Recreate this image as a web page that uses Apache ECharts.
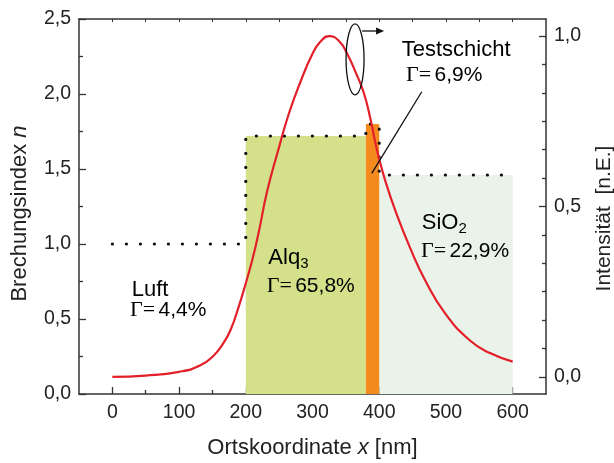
<!DOCTYPE html>
<html>
<head>
<meta charset="utf-8">
<script src="https://cdn.jsdelivr.net/npm/echarts@6/dist/echarts.min.js"></script>
<style>
  html, body { margin: 0; padding: 0; background: #ffffff; }
  #chart { width: 614px; height: 463px; }
</style>
</head>
<body>
<div id="chart"></div>
<script>
// Layer stack: edges in nm and refractive index per layer
const layerEdges = [0, 200, 380, 400, 600];
const layerIndex = [1.0, 1.72, 1.8, 1.46];
const layerNames = ['Luft', 'Alq3', 'Testschicht', 'SiO2'];
const layerGamma = ['4,4', '65,8', '6,9', '22,9'];

// Normalised intensity of the optical mode across the stack
const intensityNm = [0, 50, 100, 132, 152, 165, 177, 190, 200, 210, 220, 232, 250, 265, 282, 300, 312, 325, 340, 352, 365, 377, 387, 397, 409, 426, 446, 469, 499, 536, 566, 600];
const intensityVal = [0.000, 0.004, 0.015, 0.034, 0.063, 0.095, 0.137, 0.21, 0.275, 0.345, 0.43, 0.545, 0.675, 0.775, 0.866, 0.948, 0.984, 1.0, 0.985, 0.948, 0.892, 0.833, 0.755, 0.663, 0.576, 0.478, 0.38, 0.283, 0.186, 0.107, 0.07, 0.045];

// Tick positions
const xMajorTicks = [0, 100, 200, 300, 400, 500, 600];
const xMinorTicks = [50, 150, 250, 350, 450, 550];
const xTopTicks = [0, 50, 100, 150, 200, 250, 300, 350, 400, 450, 500, 550, 600];
const intensityMajorTicks = [0, 0.5, 1.0];
const intensityMinorTicks = [1/12, 2/12, 3/12, 4/12, 5/12, 7/12, 8/12, 9/12, 10/12, 11/12];

const layerFill = [null, '#d4e08a', '#f58a1f', '#e9f3ea'];

const SANS = '"Liberation Sans", Arial, Helvetica, sans-serif';
const SERIF = '"Liberation Serif", "Times New Roman", serif';
const INK = '#222222';
const AXIS = '#333333';

const chart = echarts.init(document.getElementById('chart'), null, { renderer: 'canvas' });

const comma = v => v.toFixed(1).replace('.', ',');

// area fills for each layer (air is left blank)
const fillSeries = [];
layerIndex.forEach((n, i) => {
  if (!layerFill[i]) return;
  fillSeries.push({
    type: 'line',
    name: layerNames[i],
    xAxisIndex: 0, yAxisIndex: 0,
    data: [[layerEdges[i], n], [layerEdges[i + 1], n]],
    showSymbol: false,
    silent: true,
    lineStyle: { width: 0, opacity: 0 },
    areaStyle: { color: layerFill[i], opacity: 1, origin: 'start' },
    z: i === 2 ? 3 : 2
  });
});

// stepped refractive-index profile
const profile = [];
layerIndex.forEach((n, i) => {
  profile.push([layerEdges[i], n]);
  profile.push([layerEdges[i + 1], n]);
});

const frameLine = { show: true, onZero: false, lineStyle: { color: AXIS, width: 1.5 } };

const option = {
  animation: false,
  backgroundColor: '#ffffff',
  grid: { left: 79, right: 68, top: 19, bottom: 69, containLabel: false, outerBoundsMode: 'none' },
  xAxis: [
    {
      type: 'value', position: 'bottom', min: -50, max: 650,
      axisLine: frameLine,
      axisTick: { show: true, inside: true, length: 7, customValues: xMajorTicks, lineStyle: { color: AXIS, width: 1.3 } },
      axisLabel: { show: true, customValues: xMajorTicks, margin: 9, color: INK, fontFamily: SANS, fontSize: 19.5 },
      splitLine: { show: false },
      name: 'Ortskoordinate {i|x} [nm]',
      nameLocation: 'middle', nameGap: 43,
      nameTextStyle: {
        color: INK, fontFamily: SANS, fontSize: 22,
        rich: { i: { fontStyle: 'italic', fontFamily: SANS, fontSize: 22, color: INK } }
      }
    },
    {
      type: 'value', position: 'bottom', min: -50, max: 650,
      axisLine: { show: false, onZero: false },
      axisTick: { show: true, inside: true, length: 4, customValues: xMinorTicks, lineStyle: { color: AXIS, width: 1.3 } },
      axisLabel: { show: false },
      splitLine: { show: false }
    },
    {
      type: 'value', position: 'top', min: -50, max: 650,
      axisLine: frameLine,
      axisTick: { show: true, inside: true, length: 3, customValues: xTopTicks, lineStyle: { color: AXIS, width: 1 } },
      axisLabel: { show: false },
      splitLine: { show: false }
    }
  ],
  yAxis: [
    {
      type: 'value', position: 'left', min: 0, max: 2.5, interval: 0.5,
      axisLine: frameLine,
      axisTick: { show: true, inside: true, length: 7, lineStyle: { color: AXIS, width: 1.3 } },
      minorTick: { show: true, splitNumber: 2, length: 4, lineStyle: { color: AXIS, width: 1.3 } },
      axisLabel: { margin: 8, color: INK, fontFamily: SANS, fontSize: 19.5, formatter: v => comma(v) },
      splitLine: { show: false }, minorSplitLine: { show: false },
      name: 'Brechungsindex {i|n}',
      nameLocation: 'middle', nameGap: 48, nameRotate: 90,
      nameTextStyle: {
        color: INK, fontFamily: SANS, fontSize: 22, padding: [0, 14, 0, 0],
        rich: { i: { fontStyle: 'italic', fontFamily: SANS, fontSize: 22, color: INK } }
      }
    },
    {
      type: 'value', position: 'right', min: -0.05, max: 1.05,
      axisLine: frameLine,
      axisTick: { show: true, inside: true, length: 7, customValues: intensityMajorTicks, lineStyle: { color: AXIS, width: 1.3 } },
      axisLabel: { show: true, customValues: intensityMajorTicks, margin: 8, color: INK, fontFamily: SANS, fontSize: 19.5, formatter: v => comma(v) },
      splitLine: { show: false },
      name: 'Intensität  [n.E.]',
      nameLocation: 'middle', nameGap: 48, nameRotate: 90,
      nameTextStyle: { color: INK, fontFamily: SANS, fontSize: 21, padding: [0, 24, 0, 0] }
    },
    {
      type: 'value', position: 'right', min: -0.05, max: 1.05,
      axisLine: { show: false, onZero: false },
      axisTick: { show: true, inside: true, length: 4, customValues: intensityMinorTicks, lineStyle: { color: AXIS, width: 1.3 } },
      axisLabel: { show: false },
      splitLine: { show: false }
    }
  ],
  series: [
    ...fillSeries,
    {
      type: 'line',
      name: 'Brechungsindex',
      xAxisIndex: 0, yAxisIndex: 0,
      data: profile,
      showSymbol: false,
      silent: true,
      lineStyle: { color: '#111111', width: 3.2, type: [0.1, 13.9], cap: 'round' },
      z: 4
    },
    {
      type: 'line',
      name: 'Intensität',
      xAxisIndex: 0, yAxisIndex: 1,
      data: intensityNm.map((x, i) => [x, intensityVal[i]]),
      smooth: 0.5,
      showSymbol: false,
      silent: true,
      lineStyle: { color: '#e3202a', width: 2.2 },
      z: 5
    }
  ]
};

chart.setOption(option);

// annotations, anchored in data space (nm, n)
const px = (x, n) => chart.convertToPixel({ xAxisIndex: 0, yAxisIndex: 0 }, [x, n]);

const gammaRich = {
  g: { fontFamily: SERIF, fontSize: 22, color: INK },
  v: { fontFamily: SANS, fontSize: 21, color: INK }
};
function gammaText(anchor, value) {
  const p = px(anchor[0], anchor[1]);
  return {
    type: 'text', x: p[0], y: p[1], z: 10,
    style: {
      text: '{g|Γ=} {v|' + value + '%}',
      rich: gammaRich,
      align: 'left', verticalAlign: 'middle'
    }
  };
}
function nameText(anchor, text, sub) {
  const p = px(anchor[0], anchor[1]);
  return {
    type: 'text', x: p[0], y: p[1], z: 10,
    style: {
      text: sub ? '{m|' + text + '}{s|' + sub + '}' : '{m|' + text + '}',
      rich: {
        m: { fontFamily: SANS, fontSize: 22, color: INK, lineHeight: 28 },
        s: { fontFamily: SANS, fontSize: 15, color: INK, lineHeight: 14, verticalAlign: 'bottom' }
      },
      align: 'left', verticalAlign: 'middle'
    }
  };
}

const ellC = px(363.8, 2.231);
const arrA = px(374.3, 2.42);
const arrB = px(407.3, 2.42);
const leadA = px(463.8, 2.015);
const leadB = px(388.8, 1.471);

chart.setOption({
  graphic: [
    nameText([29.1, 0.693], layerNames[0]),
    gammaText([26.5, 0.557], layerGamma[0]),
    nameText([233.8, 0.91], 'Alq', '3'),
    gammaText([231.4, 0.721], layerGamma[1]),
    nameText([433.8, 2.293], layerNames[2]),
    gammaText([440.3, 2.127], layerGamma[2]),
    nameText([463.8, 1.143], 'SiO', '2'),
    gammaText([462.7, 0.953], layerGamma[3]),
    {
      type: 'ellipse', z: 10, silent: true,
      shape: { cx: ellC[0], cy: ellC[1], rx: 9, ry: 35.5 },
      style: { fill: 'none', stroke: '#111111', lineWidth: 1.3 }
    },
    {
      type: 'line', z: 10, silent: true,
      shape: { x1: arrA[0], y1: arrA[1], x2: arrB[0] - 5, y2: arrB[1] },
      style: { stroke: '#111111', lineWidth: 1.3 }
    },
    {
      type: 'polygon', z: 10, silent: true,
      shape: { points: [[arrB[0], arrB[1]], [arrB[0] - 8, arrB[1] - 3.5], [arrB[0] - 8, arrB[1] + 3.5]] },
      style: { fill: '#111111' }
    },
    {
      type: 'line', z: 10, silent: true,
      shape: { x1: leadA[0], y1: leadA[1], x2: leadB[0], y2: leadB[1] },
      style: { stroke: '#111111', lineWidth: 1.3 }
    }
  ]
});
</script>
</body>
</html>
